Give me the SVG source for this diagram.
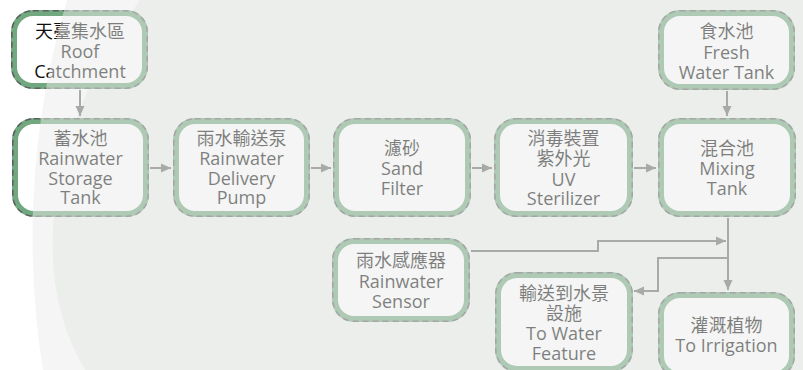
<svg xmlns="http://www.w3.org/2000/svg" width="803" height="370" viewBox="0 0 803 370">
<defs>
<style>
.box{fill:#ffffff;stroke:#72a880;stroke-width:6}
.dash{fill:none;stroke:#5e5e5e;stroke-width:1.5;stroke-dasharray:6 4}
.t{font-family:"Open Sans","Noto Sans CJK TC",sans-serif;font-size:18px;fill:#0f0f0f;text-anchor:middle}
.c{fill:none;stroke:#676967;stroke-width:2}
</style>
<marker id="ah" markerUnits="userSpaceOnUse" markerWidth="10" markerHeight="10" refX="10" refY="5" orient="auto">
<path d="M0,0.5 L10,5 L0,9.5 Z" fill="#676967"/>
</marker>
</defs>
<rect width="803" height="370" fill="#ffffff"/>
<path d="M140,0 C60,110 20,260 85,370 L803,370 L803,0 Z" fill="#eff1ef"/>
<g id="connectors">
<path class="c" d="M80,90 V116" marker-end="url(#ah)"/>
<path class="c" d="M150,168 H171" marker-end="url(#ah)"/>
<path class="c" d="M311,168 H331" marker-end="url(#ah)"/>
<path class="c" d="M472,168 H492" marker-end="url(#ah)"/>
<path class="c" d="M634,168 H656" marker-end="url(#ah)"/>
<path class="c" d="M727,91 V116" marker-end="url(#ah)"/>
<path class="c" d="M728,218 V290" marker-end="url(#ah)"/>
<path class="c" d="M471,251 H598 V241 H726" marker-end="url(#ah)"/>
<path class="c" d="M728,258 H658 V291 H634" marker-end="url(#ah)"/>
</g>
<g id="roof">
<rect class="box" x="14" y="13" width="131" height="73" rx="19"/>
<rect class="dash" x="11.8" y="10.8" width="135.4" height="77.4" rx="21"/>
<text class="t" x="80" y="38">天臺集水區</text>
<text class="t" x="80" y="58">Roof</text>
<text class="t" x="80" y="78">Catchment</text>
</g>
<g id="fresh">
<rect class="box" x="661" y="13" width="131" height="74" rx="19"/>
<rect class="dash" x="658.8" y="10.8" width="135.4" height="78.4" rx="21"/>
<text class="t" x="726.5" y="38">食水池</text>
<text class="t" x="726.5" y="59">Fresh</text>
<text class="t" x="726.5" y="79">Water Tank</text>
</g>
<g id="storage">
<rect class="box" x="15" y="121" width="131" height="93" rx="19"/>
<rect class="dash" x="12.8" y="118.8" width="135.4" height="97.4" rx="21"/>
<text class="t" x="80.5" y="145">蓄水池</text>
<text class="t" x="80.5" y="165">Rainwater</text>
<text class="t" x="80.5" y="185">Storage</text>
<text class="t" x="80.5" y="204">Tank</text>
</g>
<g id="pump">
<rect class="box" x="176" y="121" width="131" height="93" rx="19"/>
<rect class="dash" x="173.8" y="118.8" width="135.4" height="97.4" rx="21"/>
<text class="t" x="241.5" y="145">雨水輸送泵</text>
<text class="t" x="241.5" y="165">Rainwater</text>
<text class="t" x="241.5" y="185">Delivery</text>
<text class="t" x="241.5" y="204">Pump</text>
</g>
<g id="sand">
<rect class="box" x="336" y="121" width="132" height="93" rx="19"/>
<rect class="dash" x="333.8" y="118.8" width="136.4" height="97.4" rx="21"/>
<text class="t" x="402" y="155">濾砂</text>
<text class="t" x="402" y="175">Sand</text>
<text class="t" x="402" y="195">Filter</text>
</g>
<g id="uv">
<rect class="box" x="497" y="121" width="133" height="93" rx="19"/>
<rect class="dash" x="494.8" y="118.8" width="137.4" height="97.4" rx="21"/>
<text class="t" x="563.5" y="145">消毒裝置</text>
<text class="t" x="563.5" y="165">紫外光</text>
<text class="t" x="563.5" y="186">UV</text>
<text class="t" x="563.5" y="205">Sterilizer</text>
</g>
<g id="mixing">
<rect class="box" x="661" y="121" width="132" height="93" rx="19"/>
<rect class="dash" x="658.8" y="118.8" width="136.4" height="97.4" rx="21"/>
<text class="t" x="727" y="155">混合池</text>
<text class="t" x="727" y="175">Mixing</text>
<text class="t" x="727" y="195">Tank</text>
</g>
<g id="sensor">
<rect class="box" x="335" y="241" width="132" height="78" rx="19"/>
<rect class="dash" x="332.8" y="238.8" width="136.4" height="82.4" rx="21"/>
<text class="t" x="401" y="267">雨水感應器</text>
<text class="t" x="401" y="288">Rainwater</text>
<text class="t" x="401" y="308">Sensor</text>
</g>
<g id="feature">
<rect class="box" x="498" y="275" width="132" height="94" rx="19"/>
<rect class="dash" x="495.8" y="272.8" width="136.4" height="98.4" rx="21"/>
<text class="t" x="564" y="300">輸送到水景</text>
<text class="t" x="564" y="320">設施</text>
<text class="t" x="564" y="340">To Water</text>
<text class="t" x="564" y="360">Feature</text>
</g>
<g id="irrigation">
<rect class="box" x="661" y="295" width="131" height="80" rx="19"/>
<rect class="dash" x="658.8" y="292.8" width="135.4" height="84.4" rx="21"/>
<text class="t" x="726.5" y="332">灌溉植物</text>
<text class="t" x="726.5" y="352">To Irrigation</text>
</g>
<circle cx="871" cy="238" r="838.5" fill="#e9ebe9" opacity="0.5" pointer-events="none"/>
</svg>
